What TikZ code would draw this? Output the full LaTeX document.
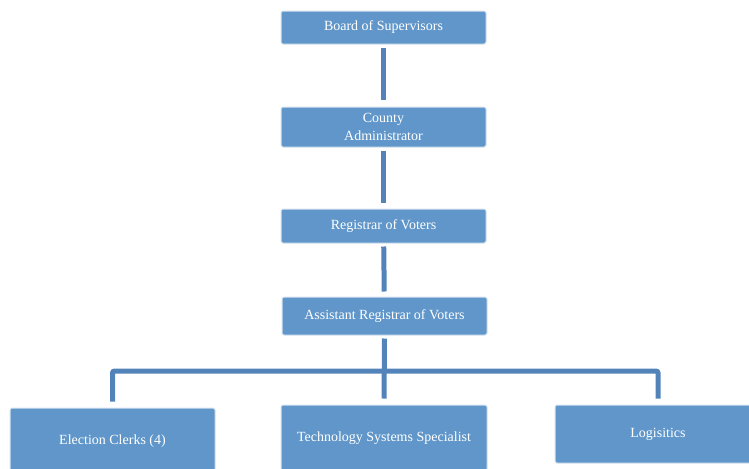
\documentclass[tikz,border=0pt]{standalone}
\usepackage{fontspec}
\setmainfont{Liberation Serif}
\definecolor{boxblue}{RGB}{96,150,201}
\definecolor{linkblue}{RGB}{82,132,186}
\definecolor{boxedge}{RGB}{214,227,240}

\tikzset{every picture/.style={line width=0.75pt}}
\tikzset{
  orgbox/.style={draw=boxedge, fill=boxblue, rounded corners=1.5pt, text=white,
    font=\fontsize{10.5}{13.5}\selectfont, align=center, inner sep=0pt,
    minimum width=153.75pt},
  link/.style={draw=linkblue, line width=3.75pt},
}

\begin{document}
\begin{tikzpicture}[x=0.75pt,y=0.75pt,yscale=-1,xscale=1]
%set diagram left start at 0, and has size of 749 x 468
\useasboundingbox (0,0) rectangle (749,468);

% Text Node
\node [orgbox, minimum height=24.75pt] (board) at (383.5,27.5) {Board of Supervisors};
% Text Node
\node [orgbox, minimum height=30pt] (admin) at (383.5,127) {County\\Administrator};
% Text Node
\node [orgbox, minimum height=25.5pt] (registrar) at (383.5,226) {Registrar of Voters};
% Text Node
\node [orgbox, minimum height=28.5pt] (assistant) at (384.5,316) {Assistant Registrar of Voters};
% Text Node
\node [orgbox, minimum height=49.5pt] (clerks) at (112.5,441) {Election Clerks (4)};
% Text Node
\node [orgbox, minimum height=49.5pt, minimum width=154.5pt] (techspec) at (384,438) {Technology Systems Specialist};
% Text Node
\node [orgbox, minimum height=43.5pt, minimum width=154.5pt] (logistics) at (658,434) {Logisitics};

%Straight Lines
\draw [link, shorten <=2.25pt, shorten >=5.25pt] (board) -- (admin);
\draw [link, shorten <=2.25pt, shorten >=4.5pt] (admin) -- (registrar);
\draw [link, shorten <=2.25pt, shorten >=3.75pt] (registrar) -- (assistant);
\draw [link, shorten <=2.25pt, shorten >=4.5pt] (assistant.south) -- (techspec.north);
%Bus Line
\coordinate (bus) at (384,371);
\draw [link, rounded corners=1.5pt] ([yshift=-4.5pt]clerks.north) -- (clerks.north |- bus)
  -- (logistics.north |- bus) -- ([yshift=-4.5pt]logistics.north);

\end{tikzpicture}
\end{document}
